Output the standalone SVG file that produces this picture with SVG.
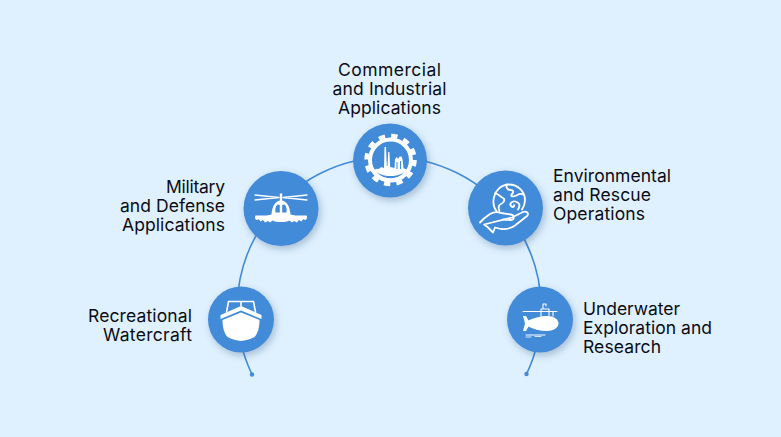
<svg xmlns="http://www.w3.org/2000/svg" width="781" height="437" viewBox="0 0 781 437">
<defs>
<filter id="sh" x="-30%" y="-30%" width="170%" height="170%"><feDropShadow dx="2" dy="3" stdDeviation="3.5" flood-color="#1f3d63" flood-opacity="0.3"/></filter>
</defs>
<style>
.bg{fill:#dff1ff}
.arc{fill:none;stroke:#438bd9;stroke-width:1.6}
.dot{fill:#438bd9}
.disc{fill:#438bd9;filter:url(#sh)}
.w{fill:#fff}
.ws{fill:none;stroke:#fff;stroke-linecap:round;stroke-linejoin:round}
text{font-family:"Inter","Liberation Sans",sans-serif;font-size:17.5px;fill:#0b0b14}
.e{text-anchor:end}.m{text-anchor:middle}
</style>
<rect class="bg" width="781" height="437"/>
<g id="connectors">
<path class="arc" d="M252 374.500A152 152 0 1 1 526.500 374"/>
<circle class="dot" cx="252" cy="374.500" r="2.200"/>
<circle class="dot" cx="526.500" cy="374" r="2.200"/>
</g>
<g id="node-commercial">
<circle class="disc" cx="390" cy="160.500" r="37"/>
<circle class="ws" cx="390.500" cy="160" r="20.500" stroke-width="4"/>
<circle cx="390.500" cy="160" r="24" fill="none" stroke="#fff" stroke-width="4.500" stroke-dasharray="6.300 6.266"/>
<path class="w" d="M374 170C377 168 379 170 381 167L384 168L384.500 147L386 147L386.800 166L387.500 166L388.200 152L389.400 152L390.200 167L394.500 168L395 159L397 157L398 159L399.500 156.500L401.500 156.500L402.500 159L403.500 168L407 170C403 174 397 176 390.500 176C384 176 378 174 374 170Z"/>
<path d="M396.500 162H397.500V169H396.500ZM400 161H401V169H400Z" fill="#438bd9"/>
<path class="ws" stroke-width="1" d="M377 175C385 180 396 180 404 175"/>
</g>
<g id="node-military">
<circle class="disc" cx="281" cy="208.500" r="37.500"/>
<path class="ws" stroke-width="1.300" d="M255 200L279 197.500M307 195L283 197.500M255 195L279 197.500M307 200L283 197.500"/>
<path class="w" d="M279.800 193.500H282.200V202H279.800Z"/>
<path class="w" fill-rule="evenodd" d="M281 200.500C287 200.500 290 207 290.500 214.500C296 216 301 215.500 306.500 215.500C307.500 217 307 219.500 305.500 220L303 219.300L301.500 221.500L299 220L297 222.500L294 221L292 222.500L289.500 220.500C286 222.500 276 222.500 272.500 220.500L270 222.500L268 221L265 222.500L263 220L260.500 221.500L259 219.300L256.500 220C255 219.500 254.500 217 255.500 215.500C261 215.500 266 216 271.500 214.500C272 207 275 200.500 281 200.500ZM277.500 204.500C275.500 206 275 209.500 275.500 212.500L279.800 212.500V205ZM284.500 204.500C286.500 206 287 209.500 286.500 212.500L282.200 212.500V205Z"/>
</g>
<g id="node-environmental">
<circle class="disc" cx="505.500" cy="208" r="37.500"/>
<g class="ws" stroke-width="1.800">
<path d="M497 212C494 208 493 204 493.500 200C494.500 191 501 184.500 509 184.500C518 184.500 525 191.500 525 200C525 204 524 206.500 522 209.500"/>
<path d="M495 193.500C499 193.500 500 197 503 198C505.500 199 504 203 501 204C498.500 205 498 208 499.500 211"/>
<path d="M507 184.500C505.500 187.500 507.500 190 510.500 190C513.500 190 514 192 512 194C510 196 512 197 515 196C518 195 520 192 524 195"/>
<path d="M518 209.500C521 205 519 202.500 515.500 201.500C512 200.500 509 204 511 206C513 208 515 206.500 514 205"/>
<path d="M480 222.500L484 218.500L490 214C494 211.500 497 211.500 501 213L511 214.500C514.500 215 515 220 511 220L503 219.500M512 217.500L523 212C526.500 210.500 529.500 213.500 527 216L515 225.500C511 228.500 506 229.500 501 229L495 227.500L493 232.500L487.500 227L484 224.500Z"/>
</g>
</g>
<g id="node-recreational">
<circle class="disc" cx="241" cy="319.500" r="33"/>
<path class="ws" stroke-width="1.600" d="M226.500 312L228.500 301.500H253.500L255.500 312M241 301.500V306"/>
<path class="w" d="M220.500 315L241 306L261.500 315V319L241 310.500L220.500 319Z"/>
<path class="w" d="M222.500 320L241 312.500L259.500 320C259.500 327 258 333 254.500 337C250.500 339.500 245 340.500 241 341C237 340.500 231.500 339.500 227.500 337C224 333 222.500 327 222.500 320Z"/>
</g>
<g id="node-underwater">
<circle class="disc" cx="540" cy="319.500" r="33"/>
<path class="ws" stroke-width="1" d="M523 311.500H557M526 335H545"/>
<path class="ws" stroke-width="1.100" d="M541 316V309H549V316M543 309V304H546V306M553 312V316"/>
<path class="w" d="M527 321C533 318 540 316 547 316C554 316 558.500 319.500 558.500 323.500C558.500 328 553 331 547 331C540 331 533 329 527 326Z"/>
<path class="w" d="M523 316L526 316L528.500 320.500V326.500L526 331H523L525 323.500Z"/>
<path class="ws" stroke-width="1" d="M526 337H531M535 336.500H541" opacity="0.8"/>
</g>
<g id="labels">
<text class="m" x="389.500" y="76" textLength="103">Commercial</text>
<text class="m" x="389.500" y="95" textLength="114">and Industrial</text>
<text class="m" x="389.500" y="114" textLength="103">Applications</text>
<text class="e" x="225" y="193" textLength="59">Military</text>
<text class="e" x="225" y="212" textLength="105">and Defense</text>
<text class="e" x="225" y="231" textLength="103">Applications</text>
<text class="e" x="192" y="322" textLength="104">Recreational</text>
<text class="e" x="192" y="341" textLength="89">Watercraft</text>
<text x="553" y="182" textLength="118">Environmental</text>
<text x="553" y="201" textLength="98">and Rescue</text>
<text x="553" y="220" textLength="92">Operations</text>
<text x="583" y="315" textLength="97">Underwater</text>
<text x="583" y="334" textLength="129">Exploration and</text>
<text x="583" y="353" textLength="78">Research</text>
</g>
</svg>
